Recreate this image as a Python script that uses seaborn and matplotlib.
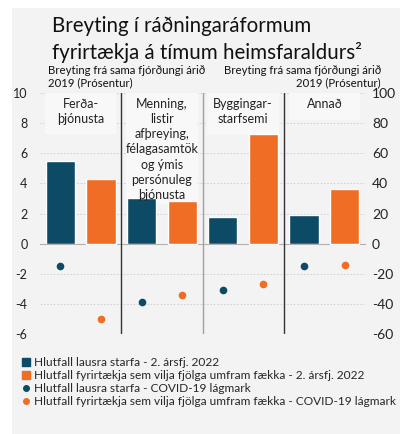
import numpy as np
import pandas as pd
import matplotlib
matplotlib.use("Agg")
import matplotlib.pyplot as plt
from matplotlib.lines import Line2D
from matplotlib.patches import Rectangle
import seaborn as sns

# data
categories = ["Ferða-\nþjónusta",
              "Menning,\nlistir\nafþreying,\nfélagasamtök\nog ýmis\npersónuleg\nþjónusta",
              "Byggingar-\nstarfsemi",
              "Annað"]
vacancy_q2 = [5.5, 3.0, 1.8, 1.9]        # left axis, %
hiring_q2 = [43, 28, 73, 36]             # right axis
vacancy_low = [-1.5, -3.9, -3.1, -1.5]   # left axis
hiring_low = [-50, -34, -27, -14]        # right axis
left_ticks = [-6, -4, -2, 0, 2, 4, 6, 8, 10]
right_ticks = [-60, -40, -20, 0, 20, 40, 60, 80, 100]
legend_labels = ["Hlutfall lausra starfa - 2. ársfj. 2022",
                 "Hlutfall fyrirtækja sem vilja fjölga umfram fækka - 2. ársfj. 2022",
                 "Hlutfall lausra starfa - COVID-19 lágmark",
                 "Hlutfall fyrirtækja sem vilja fjölga umfram fækka - COVID-19 lágmark"]

BLUE = "#0d4a65"
ORANGE = "#ef6d24"
PANEL = "#f3f3f3"
LABEL_BOX = "#f8f8f8"

sns.set_style("white")
plt.rcParams["font.family"] = ["Lato", "DejaVu Sans"]

# two slots per category: blue bar then orange bar
slots = []
for i in range(len(categories)):
    slots += [f"{i}a", f"{i}b"]
blue_df = pd.DataFrame({"slot": [f"{i}a" for i in range(4)],
                        "bar": vacancy_q2, "dot": vacancy_low})
orange_df = pd.DataFrame({"slot": [f"{i}b" for i in range(4)],
                          "bar": hiring_q2, "dot": hiring_low})

fig = plt.figure(figsize=(4.0, 4.34), dpi=100)
fig.patch.set_facecolor("white")
fig.add_artist(Rectangle((12 / 400, 0), 1, 1 - 8 / 434, transform=fig.transFigure,
                         facecolor=PANEL, edgecolor="none", zorder=0))

ax = fig.add_axes([0.10, 0.2304, 0.8125, 0.5553])
ax.set_facecolor("none")
ax2 = ax.twinx()

sns.barplot(data=blue_df, x="slot", y="bar", order=slots, color=BLUE,
            width=0.72, saturation=1, ax=ax, zorder=2)
sns.stripplot(data=blue_df, x="slot", y="dot", order=slots, color=BLUE,
              jitter=False, size=5.5, linewidth=0, ax=ax, zorder=3)
sns.barplot(data=orange_df, x="slot", y="bar", order=slots, color=ORANGE,
            width=0.72, saturation=1, ax=ax2)
sns.stripplot(data=orange_df, x="slot", y="dot", order=slots, color=ORANGE,
              jitter=False, size=5.5, linewidth=0, ax=ax2)

for a, lim, ticks in [(ax, (-6, 10), left_ticks), (ax2, (-60, 100), right_ticks)]:
    a.set_ylim(*lim)
    a.set_yticks(ticks)
    a.set_xlabel("")
    a.set_ylabel("")
    for s in ["top", "left", "right", "bottom"]:
        a.spines[s].set_visible(False)

ax.set_xlim(-0.5, 7.5)
ax.set_xticks([0.5, 2.5, 4.5, 6.5])
ax.set_xticklabels([])
ax.spines["bottom"].set_visible(True)
ax.spines["bottom"].set_position(("data", 0))
ax.spines["bottom"].set_color("#b0b0b0")
ax.spines["bottom"].set_linewidth(0.8)
ax.tick_params(axis="x", direction="out", length=3, color="#b0b0b0", width=0.8)
ax2.tick_params(axis="x", length=0)
ax.tick_params(axis="y", length=0, labelsize=9, pad=9, labelcolor="#222222")
ax2.tick_params(axis="y", length=0, labelsize=10, pad=5, labelcolor="#222222")
ax.set_yticklabels([str(t) for t in left_ticks])
ax2.set_yticklabels([str(t) for t in right_ticks])

for t in left_ticks:
    if t != 0:
        ax.axhline(t, color="#cccccc", lw=0.6, ls=(0, (2, 2)), zorder=0)

# panel separators
for xpos, col in [(1.5, "#333333"), (3.5, "#a0a0a0"), (5.5, "#333333")]:
    ax2.axvline(xpos, color=col, lw=1.0, zorder=3)

# category labels at top of each panel, on a lighter box
for i, name in enumerate(categories):
    n_lines = name.count("\n") + 1
    box_h = 0.92 * n_lines + 1.0
    ax.add_patch(Rectangle((2 * i - 0.38, 10.1 - box_h), 1.76, box_h,
                           facecolor=LABEL_BOX, edgecolor="none", zorder=1))
    ax.text(2 * i + 0.5, 9.7, name, ha="center", va="top", fontsize=9.0,
            linespacing=1.33, color="#222222", zorder=4)

fig.text(52 / 400, 1 - 16 / 434, "Breyting í ráðningaráformum\nfyrirtækja á tímum heimsfaraldurs²",
         ha="left", va="top", fontsize=14.8, linespacing=1.33, color="#111111")
fig.text(48 / 400, 1 - 65 / 434, "Breyting frá sama fjórðungi árið\n2019 (Prósentur)",
         ha="left", va="top", fontsize=8.2, linespacing=1.1, color="#111111")
fig.text(381 / 400, 1 - 65 / 434, "Breyting frá sama fjórðungi árið\n2019 (Prósentur)",
         ha="right", va="top", fontsize=8.2, linespacing=1.1, color="#111111",
         multialignment="right")

handles = [Line2D([], [], marker="s", ls="none", color=BLUE, markersize=5.5),
           Line2D([], [], marker="s", ls="none", color=ORANGE, markersize=5.5),
           Line2D([], [], marker="o", ls="none", color=BLUE, markersize=4),
           Line2D([], [], marker="o", ls="none", color=ORANGE, markersize=4)]
fig.legend(handles, legend_labels, loc="upper left", bbox_to_anchor=(22 / 400, 1 - 357 / 434),
           frameon=False, fontsize=8.6, handlelength=0.7, handletextpad=0.3,
           labelspacing=0.18, borderpad=0, borderaxespad=0)

fig.savefig("out.png", dpi=100)
